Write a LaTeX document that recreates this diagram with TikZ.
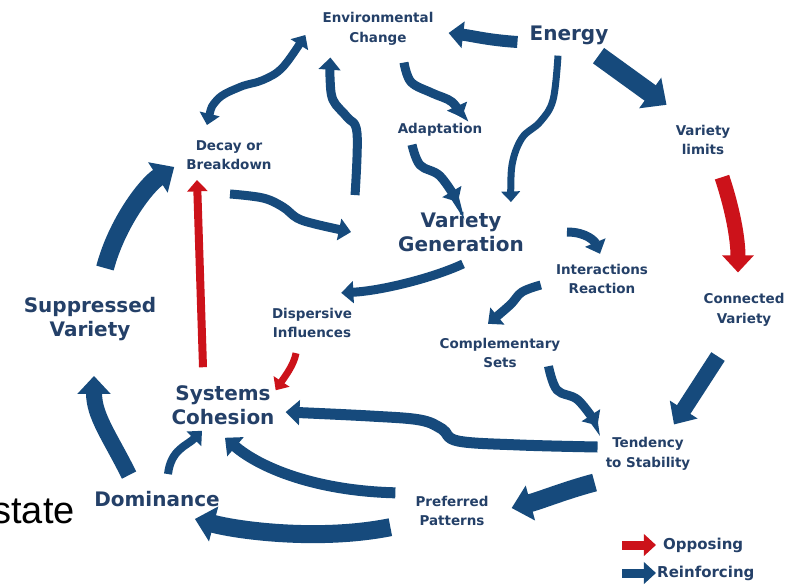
\documentclass[tikz,border=0pt]{standalone}
\usepackage{fontspec}
\setmainfont{DejaVu Sans}
\newfontfamily\slidefont{Liberation Sans}
\usepackage{xcolor}
\usepackage{tikz}
\usetikzlibrary{arrows.meta}
\definecolor{flowblue}{RGB}{22,74,124}
\definecolor{labelblue}{RGB}{36,64,104}
\definecolor{flowred}{RGB}{204,18,26}

\begin{document}
\begin{tikzpicture}[x=1pt, y=-1pt, every node/.style={inner sep=4pt}]
    \tikzstyle{small}=[text=labelblue, font=\bfseries\fontsize{13.5}{19.5}\selectfont, align=center]
    \tikzstyle{big}=[text=labelblue, font=\bfseries\fontsize{20}{24}\selectfont, align=center]
    \tikzstyle{keytext}=[text=labelblue, font=\bfseries\fontsize{15}{18}\selectfont, anchor=west, inner sep=1pt]
    \tikzstyle{flow}=[color=flowblue, -{Triangle[length=5pt 0.8, width=8pt 1.5]}]
    \tikzstyle{oppose}=[color=flowred, -{Triangle[length=5pt 0.8, width=8pt 1.5]}]
    \path[use as bounding box, fill=white] (0,0) rectangle (795,587);

    % labels
    \node[small] (env) at (378,29) {Environmental\\Change};
    \node[big] (energy) at (569,35) {Energy};
    \node[small] (adapt) at (440,130) {Adaptation};
    \node[small] (vlim) at (703,140) {Variety\\limits};
    \node[small] (decay) at (229,155) {Decay or\\Breakdown};
    \node[big] (vg) at (461,232) {Variety\\Generation};
    \node[small] (inter) at (602,279) {Interactions\\Reaction};
    \node[big] (supp) at (90,319) {Suppressed\\Variety};
    \node[small] (disp) at (312,323) {Dispersive\\Influences};
    \node[small] (conn) at (744,310) {Connected\\Variety};
    \node[small] (comp) at (500,353) {Complementary\\Sets};
    \node[big] (coh) at (223,405) {Systems\\Cohesion};
    \node[small] (tend) at (648,454) {Tendency\\to Stability};
    \node[small] (pref) at (452,511) {Preferred\\Patterns};
    \node[big] (dom) at (157,499) {Dominance};
    \node[font=\slidefont\fontsize{38}{44}\selectfont, anchor=base east, inner sep=0pt] (slide) at (75,523) {state};

    % top of the cycle
    \draw[flow, line width=12pt] ([shift={(-8,7)}]energy.west) .. controls +(-30,-2) and +(25,3) .. ([shift={(11,4)}]env.east);
    \draw[flow, line width=19pt] ([shift={(-14,7)}]energy.south east) -- ([shift={(-5,-16)}]vlim.north west);
    \draw[flow, line width=7pt] plot[smooth, tension=0.6] coordinates {([shift={(-11,7)}]energy.south) (553,100) (540,122) (522,138) (512,165) ([shift={(-17,-6)}]vg.north east)};
    \draw[flow, line width=9pt] plot[smooth, tension=0.6] coordinates {([shift={(26,13)}]env.south) (411,82) (432,93) (452,102) ([shift={(22,-2)}]adapt.north)};
    \draw[flow, line width=9pt] plot[smooth, tension=0.6] coordinates {([shift={(-28,4)}]adapt.south) (420,165) (440,176) ([shift={(-3,-6)}]vg.north)};
    \draw[color=flowblue, line width=8pt, {Triangle[length=5pt 0.8, width=8pt 1.5]}-{Triangle[length=5pt 0.8, width=8pt 1.5]}] plot[smooth, tension=0.6] coordinates {([shift={(-22,-11)}]decay.north) (217,100) (240,87) (263,80) (283,67) ([shift={(-13,6)}]env.west)};
    \draw[flow, line width=9pt] plot[smooth, tension=0.6] coordinates {([shift={(-39,-13)}]vg.north west) (357,133) (347,117) (333,100) (330,77) ([shift={(12,8)}]env.south west)};
    \draw[flow, line width=9pt] plot[smooth, tension=0.6] coordinates {([shift={(1,20)}]decay.south) (263,198) (283,207) (297,218) (315,224) ([shift={(-43,0)}]vg.west)};

    % right side
    \draw[oppose, line width=15pt] ([shift={(19,18)}]vlim.south) .. controls +(10,30) and +(0,-35) .. ([shift={(-6,-17)}]conn.north);
    \draw[flow, line width=16pt] ([shift={(-26,26)}]conn.south) -- ([shift={(26,-9)}]tend.north);
    \draw[flow, line width=9pt] ([shift={(39,0)}]vg.east) .. controls +(20,0) and +(-5,-12) .. ([shift={(-2,-6)}]inter.north);
    \draw[flow, line width=9pt] plot[smooth, tension=0.6] coordinates {([shift={(-11,6)}]inter.west) (522,292) (510,305) ([shift={(-12,-10)}]comp.north)};
    \draw[flow, line width=9pt] plot[smooth, tension=0.6] coordinates {([shift={(-16,-6)}]comp.south east) (557,390) (578,400) ([shift={(-4,-8)}]tend.north west)};
    \draw[flow, line width=9pt] ([shift={(2,8)}]vg.south) .. controls +(-30,14) and +(40,-2) .. ([shift={(-15,-11)}]disp.north east);

    % bottom and left side
    \draw[flow, line width=11pt] plot[smooth, tension=0.6] coordinates {([shift={(-4,-7)}]tend.west) (520,445) (458,441) (442,429) (420,420) (370,416) ([shift={(7,7)}]coh.east)};
    \draw[flow, line width=18pt] ([shift={(-7,8)}]tend.south west) .. controls +(-30,8) and +(30,-8) .. ([shift={(19,-3)}]pref.east);
    \draw[flow, line width=11pt] ([shift={(-16,1)}]pref.north west) .. controls +(-80,-2) and +(35,30) .. ([shift={(2,9)}]coh.south);
    \draw[flow, line width=18pt] ([shift={(-21,-3)}]pref.south west) .. controls +(-70,14) and +(45,12) .. ([shift={(-29,8)}]dom.south east);
    \draw[flow, line width=8pt] ([shift={(11,-13)}]dom.north) .. controls +(3,-25) and +(-15,15) .. ([shift={(-21,2)}]coh.south);
    \draw[flow, line width=16pt] ([shift={(39,-12)}]dom.north west) .. controls +(-20,-40) and +(0,40) .. ([shift={(4,31)}]supp.south);
    \draw[flow, line width=18pt] ([shift={(15,-25)}]supp.north) .. controls +(12,-45) and +(-28,18) .. ([shift={(-8,-7)}]decay.south west);
    \draw[oppose, line width=8pt] ([shift={(-20,-14)}]coh.north) -- ([shift={(-32,6)}]decay.south);
    \draw[oppose, line width=7pt] ([shift={(-16,11)}]disp.south) .. controls +(-2,12) and +(8,-12) .. ([shift={(-3,9)}]coh.north east);

    % key
    \node[keytext] (opp) at (662,545) {Opposing};
    \node[keytext] (rein) at (656,573) {Reinforcing};
    \coordinate (oppkey) at (622,545);
    \coordinate (reinkey) at (622,573);
    \draw[oppose, line width=9pt] (oppkey) -- ([xshift=-6pt]opp.west);
    \draw[flow, line width=9pt] (reinkey) -- (rein.west);
\end{tikzpicture}
\end{document}
